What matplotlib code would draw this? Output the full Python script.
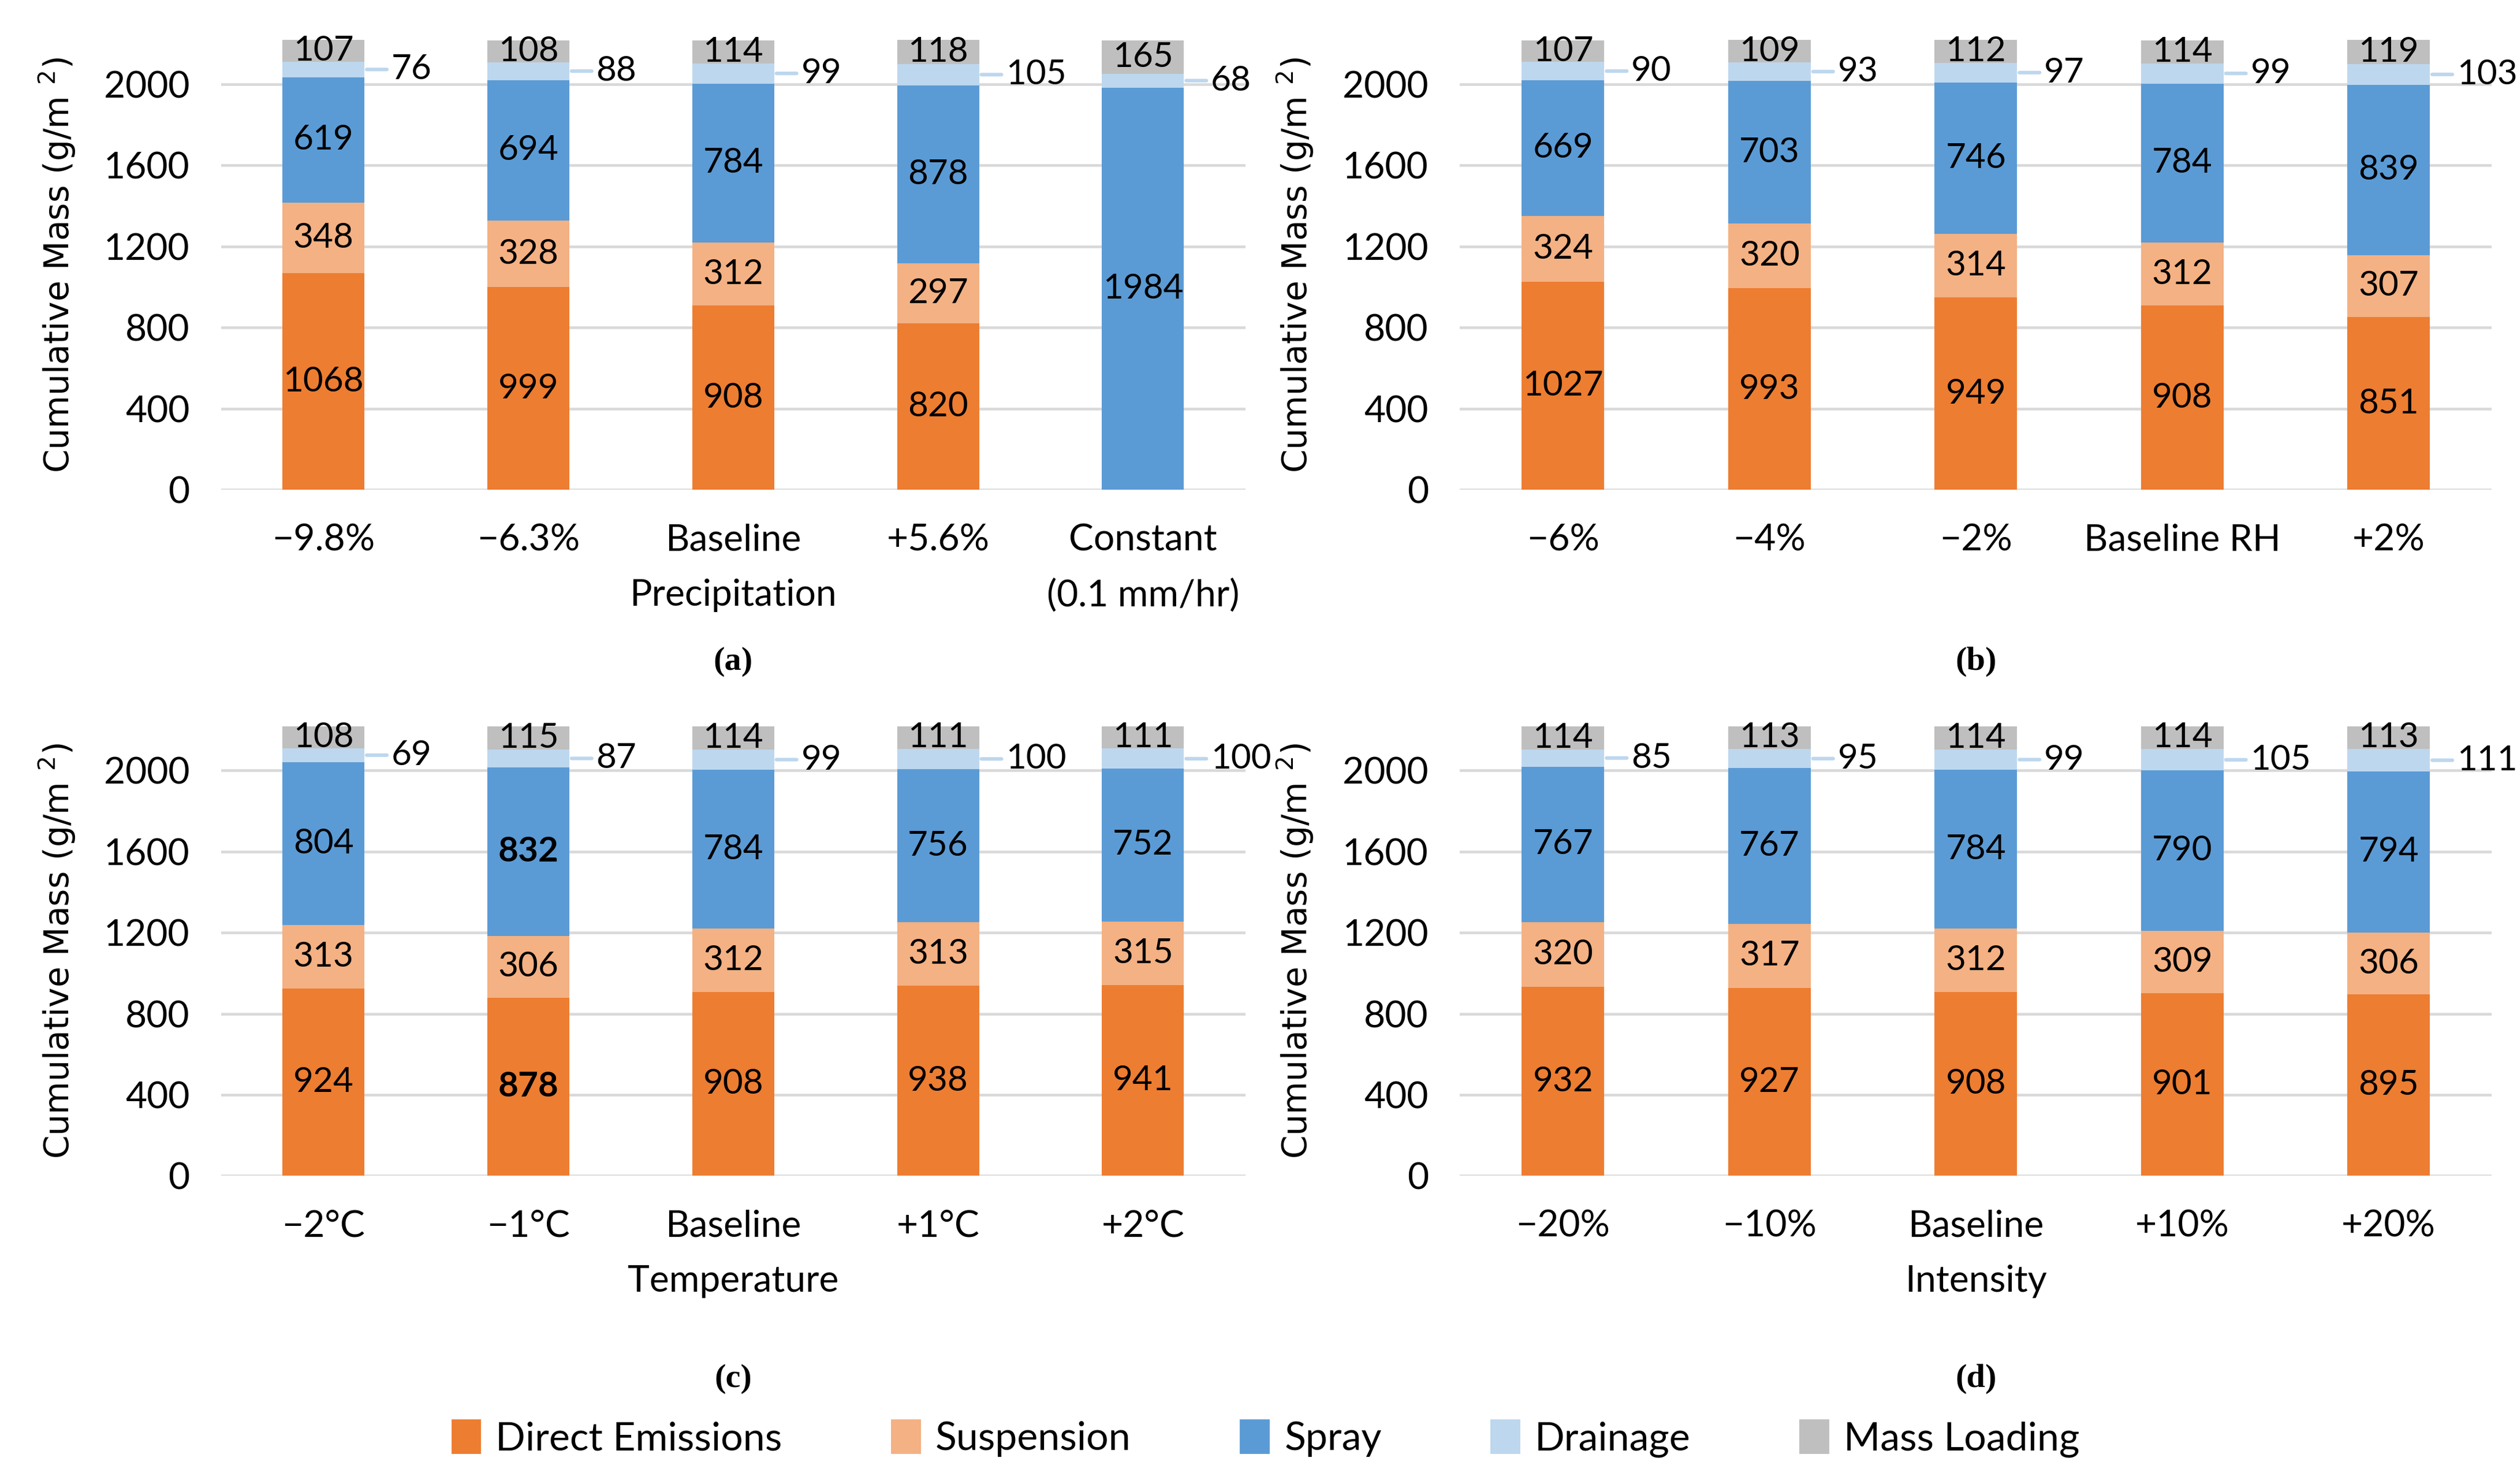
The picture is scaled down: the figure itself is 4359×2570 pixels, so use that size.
import matplotlib
matplotlib.use('Agg')
import matplotlib.pyplot as plt
from matplotlib.patches import Patch
import numpy as np

plt.rcParams['font.family'] = ['Lato', 'DejaVu Sans']

series = ['Direct Emissions', 'Suspension', 'Spray', 'Drainage', 'Mass Loading']
colors = ['#ED7D31', '#F4B183', '#5B9BD5', '#BDD7EE', '#BFBFBF']

# (a) precipitation
cats_a = ['−9.8%', '−6.3%', 'Baseline\nPrecipitation', '+5.6%', 'Constant\n(0.1 mm/hr)']
direct_a = [1068, 999, 908, 820, 0]
susp_a = [348, 328, 312, 297, 0]
spray_a = [619, 694, 784, 878, 1984]
drain_a = [76, 88, 99, 105, 68]
load_a = [107, 108, 114, 118, 165]

# (b) relative humidity
cats_b = ['−6%', '−4%', '−2%', 'Baseline RH', '+2%']
direct_b = [1027, 993, 949, 908, 851]
susp_b = [324, 320, 314, 312, 307]
spray_b = [669, 703, 746, 784, 839]
drain_b = [90, 93, 97, 99, 103]
load_b = [107, 109, 112, 114, 119]

# (c) temperature
cats_c = ['−2°C', '−1°C', 'Baseline\nTemperature', '+1°C', '+2°C']
direct_c = [924, 878, 908, 938, 941]
susp_c = [313, 306, 312, 313, 315]
spray_c = [804, 832, 784, 756, 752]
drain_c = [69, 87, 99, 100, 100]
load_c = [108, 115, 114, 111, 111]

# (d) intensity
cats_d = ['−20%', '−10%', 'Baseline\nIntensity', '+10%', '+20%']
direct_d = [932, 927, 908, 901, 895]
susp_d = [320, 317, 312, 309, 306]
spray_d = [767, 767, 784, 790, 794]
drain_d = [85, 95, 99, 105, 111]
load_d = [114, 113, 114, 114, 113]

# bold labels in panel (c), bar index 1
bold_c = {(0, 1), (2, 1)}

fig = plt.figure(figsize=(4359 / 280, 2570 / 280), dpi=280)

panels = [
    ([0.0878, 0.670, 0.407, 0.303], cats_a, [direct_a, susp_a, spray_a, drain_a, load_a], '(a)', set()),
    ([0.580, 0.670, 0.410, 0.303], cats_b, [direct_b, susp_b, spray_b, drain_b, load_b], '(b)', set()),
    ([0.0878, 0.2076, 0.407, 0.303], cats_c, [direct_c, susp_c, spray_c, drain_c, load_c], '(c)', bold_c),
    ([0.580, 0.2076, 0.410, 0.303], cats_d, [direct_d, susp_d, spray_d, drain_d, load_d], '(d)', set()),
]

fs = 15.5
tfs = 16.5
w = 0.40
for rect, cats, vals, letter, bold in panels:
    ax = fig.add_axes(rect)
    x = np.arange(len(cats))
    bottom = np.zeros(len(cats))
    for si, (v, c) in enumerate(zip(vals, colors)):
        v = np.array(v, dtype=float)
        ax.bar(x, v, w, bottom=bottom, color=c, zorder=2)
        for i in range(len(cats)):
            if v[i] <= 0:
                continue
            mid = bottom[i] + v[i] / 2
            weight = 'bold' if (si, i) in bold else 'normal'
            if si == 3:
                ax.annotate(str(int(v[i])), xy=(x[i] + w / 2, mid), xytext=(12, 0),
                            textcoords='offset points', ha='left', va='center',
                            fontsize=fs, color='black',
                            arrowprops=dict(arrowstyle='-', color='#BDD7EE', lw=1.6,
                                            shrinkA=0, shrinkB=1))
            else:
                ax.text(x[i], mid, str(int(v[i])), ha='center', va='center',
                        fontsize=fs, color='black', fontweight=weight, zorder=3)
        bottom += v
    ax.set_xlim(-0.5, len(cats) - 0.5)
    ax.set_ylim(0, 2218)
    ax.set_yticks(np.arange(0, 2001, 400))
    ax.set_xticks(x)
    ax.set_xticklabels(cats, fontsize=tfs, linespacing=1.8)
    ax.tick_params(axis='x', length=0, pad=15)
    ax.tick_params(axis='y', length=0, pad=14, labelsize=tfs)
    ax.grid(axis='y', color='#d9d9d9', lw=1.2, zorder=0)
    for s in ax.spines.values():
        s.set_visible(False)
    ax.set_ylabel('Cumulative Mass (g/m $^{2}$)', fontsize=15, family='DejaVu Sans')
    ax.yaxis.set_label_coords(-0.14, 0.5)
    cx = rect[0] + rect[2] / 2
    ly = 0.554 if rect[1] > 0.5 else 0.0707
    fig.text(cx, ly, letter, ha='center', va='center', fontsize=15,
             family='Liberation Serif', fontweight='bold')

handles = [Patch(color=c, label=s) for s, c in zip(series, colors)]
fig.legend(handles=handles, loc='center', bbox_to_anchor=(0.503, 0.0304), ncol=5,
           frameon=False, fontsize=17.5, columnspacing=2.8, handlelength=0.7,
           handleheight=0.9, handletextpad=0.4)

fig.savefig('out.png', dpi=280, facecolor='white')
